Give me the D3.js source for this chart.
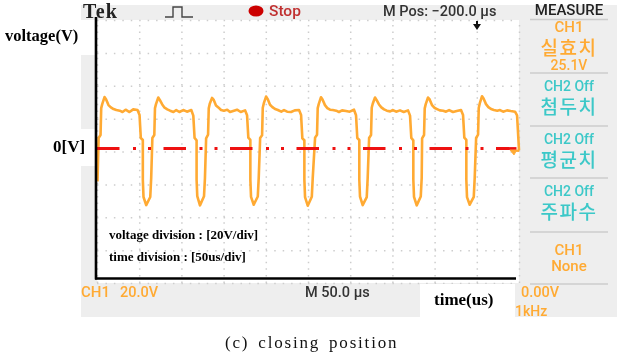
<!DOCTYPE html>
<html><head><meta charset="utf-8">
<style>html,body{margin:0;padding:0;background:#fff}svg{display:block;filter:blur(0.3px)}</style>
<script src="https://cdnjs.cloudflare.com/ajax/libs/d3/7.8.5/d3.min.js"></script>
</head><body><svg id="c" width="629" height="361"></svg>
<script>
// Waveform samples (time in us, voltage in V)
const timeUs = [
0.6,1.9,4.2,5,6.2,8.9,10.7,13.6,16.4,19.6,22.9,26.9,30.2,33.9,38.5,42.9,48,50.4,51.9,54.3,54.3,55.1,58.3,63.1,64.2,
65.6,67.9,68.7,69.9,72.6,74.4,77.3,80.1,83.3,86.6,90.6,93.9,97.6,102.2,106.6,111.7,114.1,115.6,118,118,118.8,122,126.8,127.9,
129.3,131.6,132.4,133.6,136.3,138.1,141,143.8,147,150.3,154.3,157.6,161.3,165.9,170.3,175.4,177.8,179.3,181.7,181.7,182.5,185.7,190.5,191.6,
193.3,195.6,196.4,197.6,200.3,202.1,205,207.8,211,214.3,218.3,221.6,225.3,229.9,234.3,239.4,241.8,243.3,245.7,245.7,246.5,249.7,254.5,255.6,
258.4,260.7,261.5,262.7,265.4,267.2,270.1,272.9,276.1,279.4,283.4,286.7,290.4,295,299.4,304.5,306.9,308.4,310.8,310.8,311.6,314.8,319.6,320.7,
322.4,324.7,325.5,326.7,329.4,331.2,334.1,336.9,340.1,343.4,347.4,350.7,354.4,359,363.4,368.5,370.9,372.4,374.8,374.8,375.6,378.8,383.6,384.7,
385.2,387.5,388.3,389.5,392.2,394,396.9,399.7,402.9,406.2,410.2,413.5,417.2,421.8,426.2,431.3,433.7,435.2,437.6,437.6,438.4,441.6,446.4,447.5,
449.2,451.5,452.3,453.5,456.2,458,460.9,463.7,466.9,470.2,474.2,477.5,481.2,485.8,490.2,495.3,497.7,499.2,500
];
const volts = [
-20,6.4,8.2,24.6,27,31.3,30,26.4,25,24,23.4,23,22.2,23.6,22.2,23.8,23.4,20.4,6.4,5.2,-19,-29.5,-34.4,-29.5,-18,
6.4,8.2,24.6,27,31,29.6,26.8,24.8,23.8,23,22.2,23.4,22.2,23.4,22.4,23.4,20,6.4,5,-19,-29,-34.6,-29,-18,
6.2,8.4,24.4,27.2,30.8,29.8,26.2,25,23.4,23,23.6,22.2,22.8,23.6,22.2,23.2,20.2,6.6,5.2,-19,-29.4,-34.2,-29.2,-18,
6.4,8,24.8,27.4,31.6,30.2,26.6,25.2,24,23.4,22.4,23.4,22.4,22.2,23.2,23.4,20.4,6.2,5,-19,-29.6,-34.8,-29.4,-18,
6.6,8.4,24.6,27,31.2,29.8,26.4,24.6,23.6,23.4,23,22.2,23.2,22.8,22.4,23.6,20.2,6.4,5.2,-19,-29.2,-34.4,-29.6,-18,
6.4,8.2,24.8,27.2,31,29.6,26.8,25,23.8,23,22.6,23.4,22.4,23.2,22.2,23.2,20,6.4,5,-19,-29.4,-34.6,-29.2,-18,
6.2,8.2,24.4,27,31,30,26.4,24.8,24,23.2,23,22.4,23.4,22.2,22.8,23.4,20.4,6.6,5.2,-19,-29.6,-34.2,-29.4,-18,
6.4,8.4,24.6,27.4,31.8,30.4,27,25.2,24,23.4,23,23.4,22.4,23.2,22.8,22.4,20.2,6.4,-1
];
const zeroLineT = [0, 497];
const zeroLineV = [0, 0];
const xTicks = [0,50,100,150,200,250,300,350,400,450,500];
const yTicks = [-80,-60,-40,-20,0,20,40,60,80];
const menuOrange = [["CH1",32,15],["실효치",55,19],["25.1V",70,14],["CH1",255,15],["None",271,15]];
const menuTeal = [["CH2 Off",91,14],["첨두치",114,19],["CH2 Off",144,14],["평균치",167,19],["CH2 Off",196,14],["주파수",219,19]];
const menuRules = [19.5,73,126,178,232,284];

const svg = d3.select("#c");
const kr = "'Noto Sans CJK KR','Noto Sans',sans-serif";
const sans = "Roboto,'Liberation Sans',sans-serif";
const serif = "'Liberation Serif',serif";
const orange = "#FFAA33", teal = "#3CC8C8";

const x = d3.scaleLinear().domain([0,500]).range([97,519]);
const y = d3.scaleLinear().domain([-80,80]).range([283,20]);
const traceShift = -3;   // the trace's zero sits just above the centre graticule line
const yW = v => y(v) + traceShift;

// instrument background
svg.append("rect").attr("x",81).attr("y",5).attr("width",536).attr("height",312).attr("fill","#EEEEEE");
svg.append("rect").attr("x",97).attr("y",20).attr("width",422).attr("height",263).attr("fill","#fff");

// graticule through D3 axes
const gx = svg.append("g").attr("transform","translate(0,283)")
  .call(d3.axisBottom(x).tickValues(xTicks).tickSizeOuter(0).tickFormat(""));
gx.selectAll("line").attr("y1",0).attr("y2",-263).attr("stroke-dasharray","1.5,5.08");
const gy = svg.append("g").attr("transform","translate(97,0)")
  .call(d3.axisRight(y).tickValues(yTicks).tickSizeOuter(0).tickFormat(""));
gy.selectAll("line").attr("x1",0).attr("x2",422).attr("stroke-dasharray","1.5,6.94");
[gx,gy].forEach(g=>{
  g.select(".domain").remove();
  g.selectAll("line").attr("stroke","#CDCDCD").attr("stroke-width",1.5);
});

// overlays of the annotated figure
svg.append("rect").attr("x",0).attr("y",20).attr("width",95).attr("height",35).attr("fill","#fff");
svg.append("rect").attr("x",0).attr("y",129).attr("width",95).attr("height",37).attr("fill","#fff");
svg.append("rect").attr("x",420).attr("y",284).attr("width",95).attr("height",33).attr("fill","#fff");

// waveform
const pts = timeUs.map((t,i)=>[t,volts[i]]);
const line = d3.line().x(d=>x(d[0])).y(d=>yW(d[1]));
svg.append("path").datum(pts).attr("d",line).attr("fill","none")
  .attr("stroke",orange).attr("stroke-width",2.6).attr("stroke-linejoin","round");

// red zero line
svg.append("path").datum(zeroLineT.map((t,i)=>[t,zeroLineV[i]])).attr("d",line)
  .attr("fill","none").attr("stroke","#EE1111").attr("stroke-width",2.8)
  .attr("stroke-dasharray","22.5,13.5,3,12,3,12.5");

// ground marker
svg.append("path").attr("d","M510 150H519V151.5H516L514 155Z").attr("fill",orange).attr("stroke",orange).attr("stroke-width",0.8);

// black axes
svg.append("line").attr("x1",96).attr("x2",96).attr("y1",17).attr("y2",279.5).attr("stroke","#000").attr("stroke-width",2.6);
svg.append("line").attr("x1",95).attr("x2",516).attr("y1",278.5).attr("y2",278.5).attr("stroke","#000").attr("stroke-width",2.4);

function t(s,px,py,size,fill,fam,opts={}){
  const e = svg.append("text").attr("x",px).attr("y",py).attr("font-size",size).attr("fill",fill)
    .attr("font-family",fam).attr("font-weight",opts.w||"normal").attr("text-anchor",opts.a||"start").text(s);
  if(opts.ls) e.attr("letter-spacing",opts.ls);
  if(opts.ws) e.attr("word-spacing",opts.ws);
  return e;
}
// header
t("Tek",83,18,20,"#222",serif,{w:"bold",ls:"1.2"});
svg.append("path").attr("d","M165 17H173V7H182V17H193").attr("fill","none").attr("stroke","#444").attr("stroke-width",1.4);
svg.append("ellipse").attr("cx",256).attr("cy",11).attr("rx",7.5).attr("ry",5.5).attr("fill","#CC0000");
t("Stop",269,16,15.5,"#C03030",sans,{w:"500"});
t("M Pos: −200.0 µs",383,16,14.5,"#333",sans,{w:"500"});
t("MEASURE",569,15,15,"#222",sans,{w:"500",a:"middle"});
svg.append("path").attr("d","M477 30L473 24H476V21H478V24H481Z").attr("fill","#111");

// menu
menuRules.forEach(r=>svg.append("line").attr("x1",530).attr("x2",608).attr("y1",r).attr("y2",r).attr("stroke","#CCCCCC").attr("stroke-width",1.5));
menuOrange.forEach(d=>t(d[0],569,d[1],d[2],orange,d[2]>15?kr:sans,{a:"middle",w:"500",ls:d[2]>15?1.5:0}));
menuTeal.forEach(d=>t(d[0],569,d[1],d[2],teal,d[2]>15?kr:sans,{a:"middle",w:"500",ls:d[2]>15?1.5:0}));

// footer
t("CH1",81,297,15,orange,sans,{w:"500"});
t("20.0V",120,297,14.5,orange,sans,{w:"500"});
t("M 50.0 µs",305,297,14.5,"#333",sans,{w:"500"});
t("0.00V",521,297,14.5,orange,sans,{w:"500"});
t("1kHz",515,316,14,orange,sans,{w:"500"});

// annotations
t("voltage(V)",5,41,16.5,"#000",serif,{w:"bold"});
t("0[V]",53,152,17,"#000",serif,{w:"bold"});
t("time(us)",434,305,17,"#000",serif,{w:"bold"});
t("voltage division : [20V/div]",109,239,13,"#000",serif,{w:"bold"});
t("time division : [50us/div]",109,261,13,"#000",serif,{w:"bold"});
t("(c) closing position",225,348,17,"#111",serif,{ls:"1.8",ws:"3"});
</script></body></html>
